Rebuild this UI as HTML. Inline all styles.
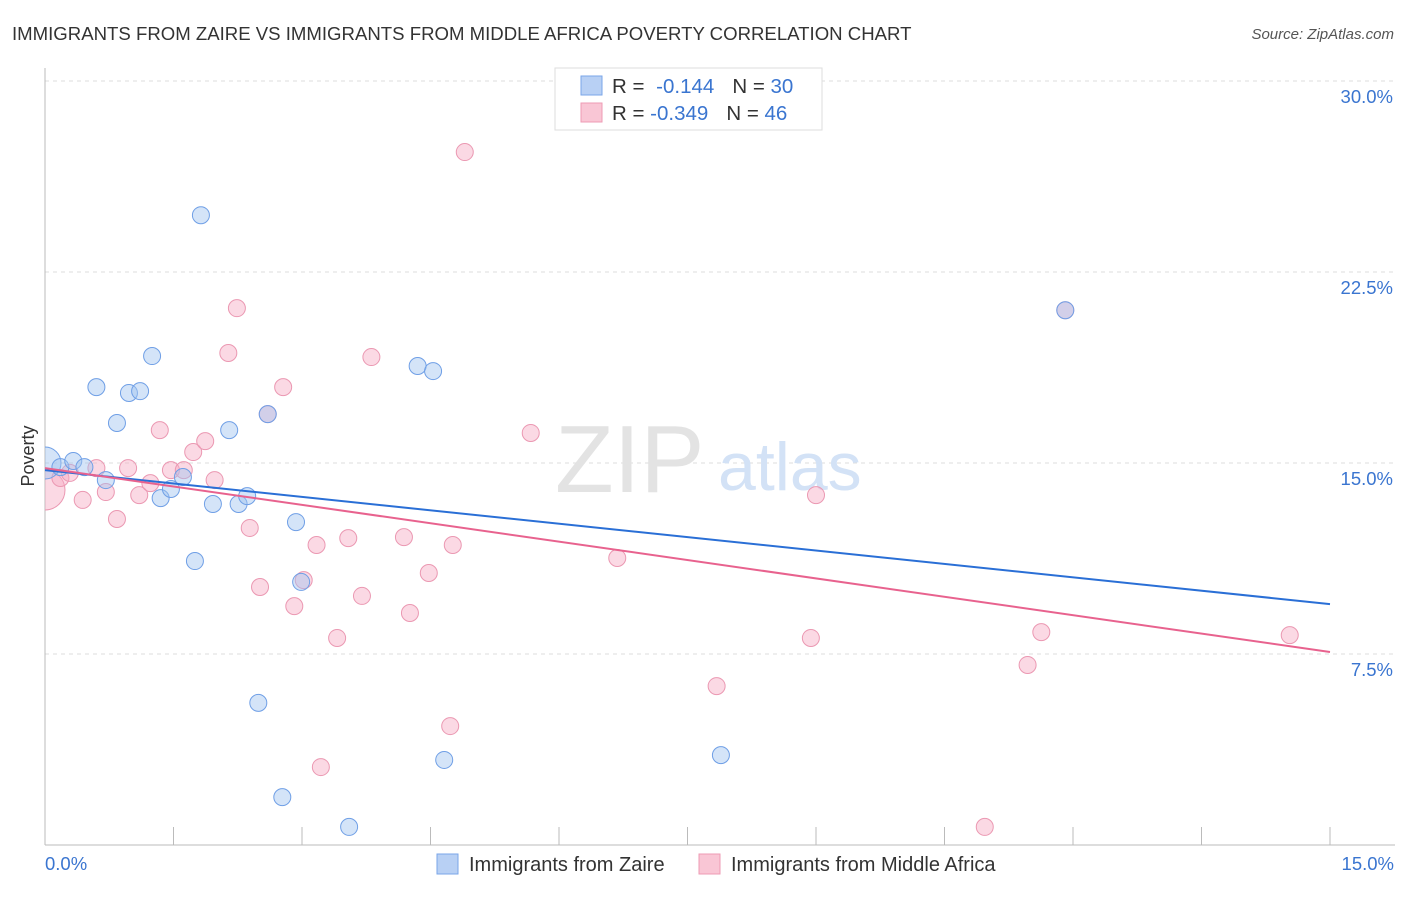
<!DOCTYPE html>
<html><head><meta charset="utf-8"><style>
body{margin:0;background:#fff;font-family:"Liberation Sans",sans-serif}
svg text{font-family:"Liberation Sans",sans-serif}
</style></head><body>
<svg width="1406" height="892">
<defs><clipPath id="plot"><rect x="45" y="60" width="1360" height="785"/></clipPath></defs>
<text x="12" y="40" font-size="18.6" fill="#333">IMMIGRANTS FROM ZAIRE VS IMMIGRANTS FROM MIDDLE AFRICA POVERTY CORRELATION CHART</text>
<text x="1394" y="39" font-size="15" fill="#555" text-anchor="end" font-style="italic">Source: ZipAtlas.com</text>
<g id="grid"></g>
<text x="555" y="492" font-size="96" font-family="Liberation Serif,serif" fill="#e3e3e3">ZIP</text>
<text x="718" y="490" font-size="68" fill="#d3e2f6">atlas</text>
<line x1="45" y1="68" x2="45" y2="845" stroke="#bbb"/>
<line x1="45" y1="845" x2="1395" y2="845" stroke="#bbb"/>
<text transform="translate(34,456) rotate(-90)" font-size="18" fill="#333" text-anchor="middle">Poverty</text>
<text x="45" y="870" font-size="18.5" fill="#3a75d0">0.0%</text>
<text x="1394" y="870" font-size="18.5" fill="#3a75d0" text-anchor="end">15.0%</text>
<g id="pts" clip-path="url(#plot)"></g>
<g id="lines"></g>
<g>
<rect x="555" y="68" width="267" height="62" fill="#fff" stroke="#ddd"/>
<rect x="581" y="76" width="21" height="19" fill="#b8d0f4" stroke="#7aa6e8"/>
<rect x="581" y="103" width="21" height="19" fill="#f9c6d5" stroke="#ee9bb4"/>
<text x="612" y="93" font-size="20.5" fill="#333">R = <tspan fill="#3a75d0" dx="6">-0.144</tspan><tspan dx="18">N = </tspan><tspan fill="#3a75d0">30</tspan></text>
<text x="612" y="120" font-size="20.5" fill="#333">R = <tspan fill="#3a75d0">-0.349</tspan><tspan dx="18">N = </tspan><tspan fill="#3a75d0">46</tspan></text>
</g>
<g>
<rect x="437" y="854" width="21" height="20" fill="#b8d0f4" stroke="#7aa6e8"/>
<text x="469" y="871" font-size="20" fill="#333">Immigrants from Zaire</text>
<rect x="699" y="854" width="21" height="20" fill="#f9c6d5" stroke="#ee9bb4"/>
<text x="731" y="871" font-size="20" fill="#333">Immigrants from Middle Africa</text>
</g>
</svg>
<script>
const yTicks=[7.5,15,22.5,30];
const yTickLabels=["7.5%","15.0%","22.5%","30.0%"];
const xTicks=[0,1.5,3,4.5,6,7.5,9,10.5,12,13.5,15];
const zaireX=[0,0.18,0.33,0.46,0.71,0.6,0.84,0.98,1.11,1.25,1.35,1.47,1.61,1.82,1.75,1.96,2.15,2.26,2.36,2.49,2.6,2.77,2.93,2.99,3.55,4.35,4.53,4.66,7.89,11.91];
const zaireY=[15,14.84,15.08,14.84,14.33,17.98,16.57,17.75,17.82,19.2,13.62,13.98,14.45,24.73,11.15,13.39,16.29,13.39,13.7,5.58,16.92,1.88,12.68,10.33,0.71,18.81,18.61,3.34,3.53,21];
const africaX=[0,0.18,0.29,0.44,0.6,0.71,0.84,0.97,1.1,1.23,1.34,1.47,1.62,1.73,1.87,1.98,2.14,2.24,2.39,2.51,2.6,2.78,2.91,3.02,3.17,3.22,3.41,3.54,3.7,3.81,4.19,4.26,4.48,4.73,4.76,4.9,5.67,6.68,7.84,8.94,9,10.97,11.47,11.63,11.91,14.53];
const africaY=[13.94,14.41,14.61,13.55,14.8,13.86,12.8,14.8,13.74,14.21,16.29,14.72,14.72,15.43,15.86,14.33,19.32,21.08,12.45,10.13,16.92,17.98,9.38,10.4,11.78,3.06,8.13,12.05,9.78,19.16,12.09,9.11,10.68,4.67,11.78,27.21,16.18,11.27,6.24,8.13,13.74,0.71,7.07,8.36,21,8.24];
const zaireTrend=[14.72,9.46];
const africaTrend=[14.8,7.58];
const NS="http://www.w3.org/2000/svg";
const sx=v=>45+v*(1285/15);
const sy=v=>845-v*(764/30);
function mk(t,a,p){const e=document.createElementNS(NS,t);for(const k in a)e.setAttribute(k,a[k]);p.appendChild(e);return e;}
const grid=document.getElementById('grid');
yTicks.forEach((v,i)=>{
 const l=mk('line',{x1:45,x2:1395,y1:sy(v),y2:sy(v),stroke:'#ddd','stroke-dasharray':'4,4'},grid);
 
 
 const t=mk('text',{x:1393,y:sy(v)+22,'font-size':18.5,fill:'#3a75d0','text-anchor':'end'},grid);
 t.textContent=yTickLabels[i];
 
 
});
xTicks.forEach(v=>{
 const l=mk('line',{x1:sx(v),x2:sx(v),y1:827,y2:845,stroke:'#bbb'},grid);
 
 
});
const pts=document.getElementById('pts');
africaX.forEach((x,i)=>{
 const c=mk('circle',{cx:sx(x),cy:sy(africaY[i]),r:i==0?20:8.5,fill:'rgba(246,170,195,0.45)',stroke:'#eb98b2','stroke-width':1},pts);
 
 
});
zaireX.forEach((x,i)=>{
 const c=mk('circle',{cx:sx(x),cy:sy(zaireY[i]),r:i==0?16:8.5,fill:'rgba(160,195,240,0.45)',stroke:'#6f9fe6','stroke-width':1},pts);
 
 
});
const ln=document.getElementById('lines');
let a=mk('line',{x1:sx(0),y1:sy(zaireTrend[0]),x2:sx(15),y2:sy(zaireTrend[1]),stroke:'#2a6fd6','stroke-width':2},ln);


let b=mk('line',{x1:sx(0),y1:sy(africaTrend[0]),x2:sx(15),y2:sy(africaTrend[1]),stroke:'#e8628e','stroke-width':2},ln);


</script>
</body></html>
